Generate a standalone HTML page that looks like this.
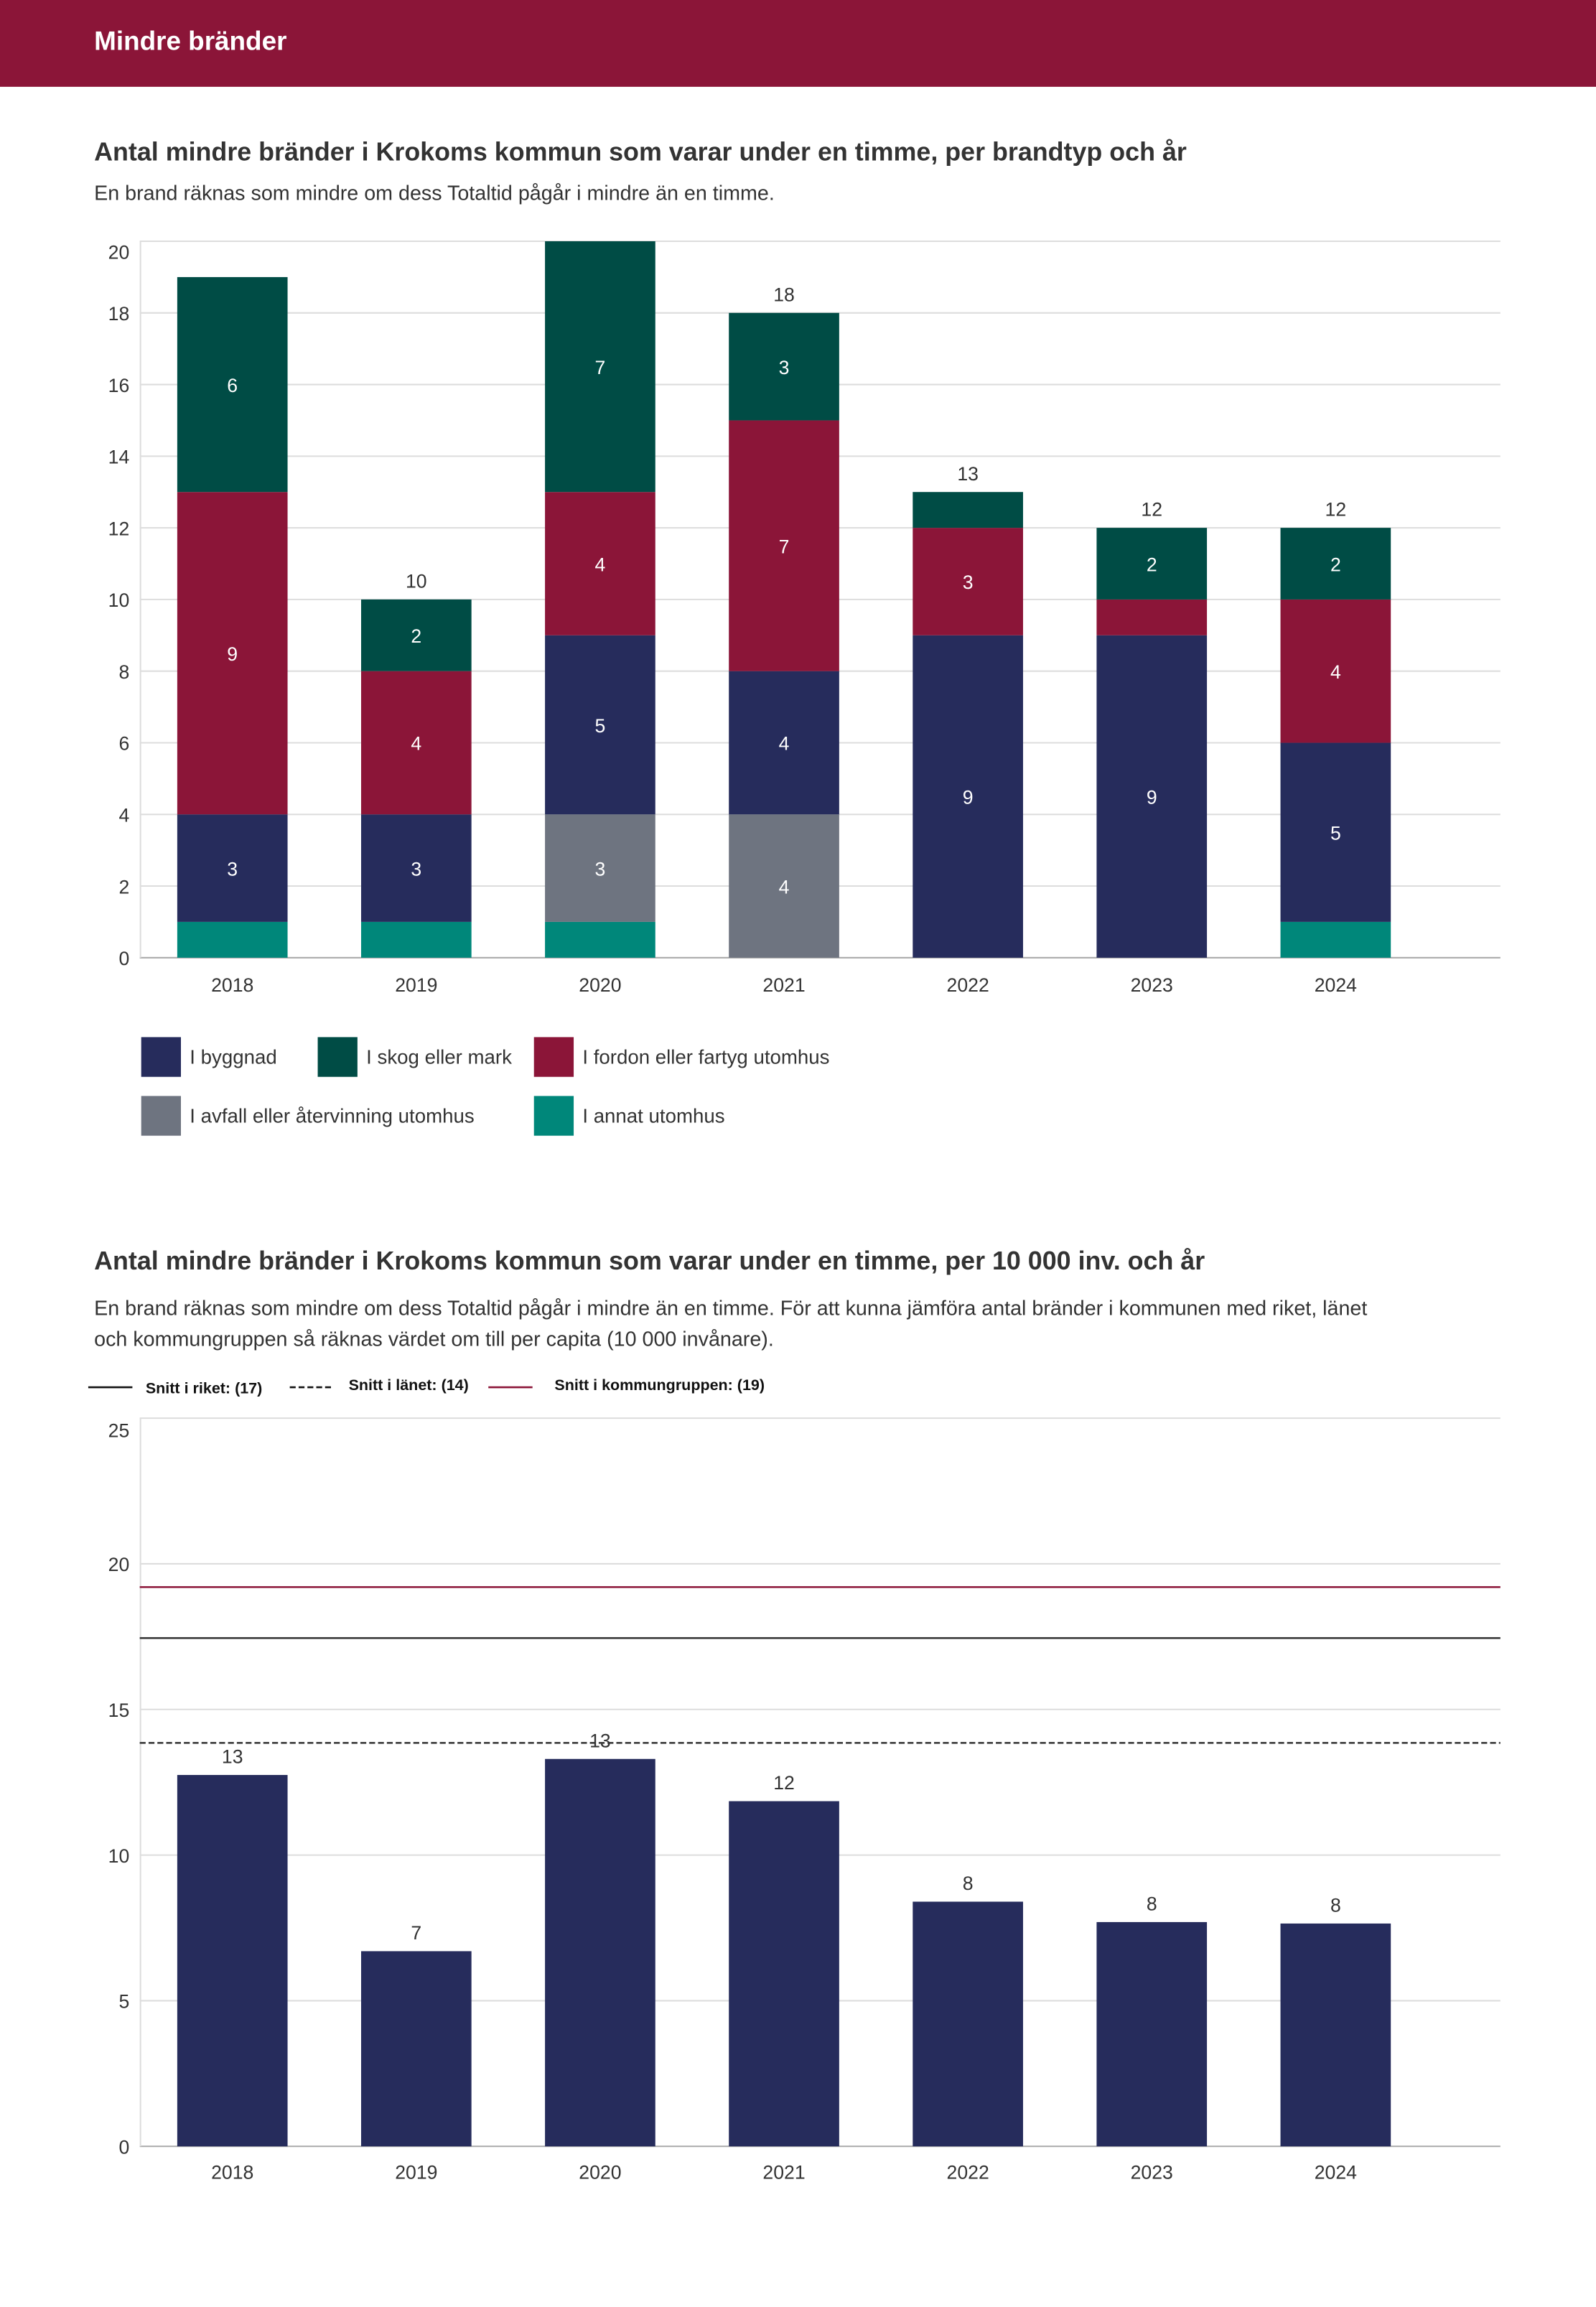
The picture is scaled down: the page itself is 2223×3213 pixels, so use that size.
<!DOCTYPE html>
<html><head><meta charset="utf-8"><style>
html,body{margin:0;padding:0;background:#fff;}
svg{display:block;font-family:"Liberation Sans",sans-serif;}
</style></head><body>
<svg id="s" width="2223" height="3213" viewBox="0 0 1085 1568.2" xmlns="http://www.w3.org/2000/svg">
<rect x="0" y="0" width="1085" height="59" fill="#8b1538"/>
<text x="64" y="34" fill="#fff" font-size="18" font-weight="bold">Mindre bränder</text>
<text x="64" y="109" fill="#333" font-size="17.5" font-weight="bold">Antal mindre bränder i Krokoms kommun som varar under en timme, per brandtyp och år</text>
<text x="64" y="136" fill="#333" font-size="14">En brand räknas som mindre om dess Totaltid pågår i mindre än en timme.</text>
<g id="c1"></g>
<g>
<rect x="96" y="705" width="27" height="27" fill="#262c5c"/><text x="129" y="723" font-size="13.5" fill="#333">I byggnad</text>
<rect x="216" y="705" width="27" height="27" fill="#004c45"/><text x="249" y="723" font-size="13.5" fill="#333">I skog eller mark</text>
<rect x="363" y="705" width="27" height="27" fill="#8b1538"/><text x="396" y="723" font-size="13.5" fill="#333">I fordon eller fartyg utomhus</text>
<rect x="96" y="745" width="27" height="27" fill="#6e7480"/><text x="129" y="763" font-size="13.5" fill="#333">I avfall eller återvinning utomhus</text>
<rect x="363" y="745" width="27" height="27" fill="#00877a"/><text x="396" y="763" font-size="13.5" fill="#333">I annat utomhus</text>
</g>
<text x="64" y="863" fill="#333" font-size="17.5" font-weight="bold">Antal mindre bränder i Krokoms kommun som varar under en timme, per 10 000 inv. och år</text>
<text x="64" y="894" fill="#333" font-size="14">En brand räknas som mindre om dess Totaltid pågår i mindre än en timme. För att kunna jämföra antal bränder i kommunen med riket, länet</text>
<text x="64" y="915" fill="#333" font-size="14">och kommungruppen så räknas värdet om till per capita (10 000 invånare).</text>
<g>
<line x1="60" y1="943" x2="90" y2="943" stroke="#111" stroke-width="1.3"/><text x="99" y="947" font-size="10.5" font-weight="bold" fill="#111">Snitt i riket: (17)</text>
<line x1="197" y1="943" x2="227" y2="943" stroke="#111" stroke-width="1.3" stroke-dasharray="4,2"/><text x="237" y="945" font-size="10.5" font-weight="bold" fill="#111">Snitt i länet: (14)</text>
<line x1="332" y1="943" x2="362" y2="943" stroke="#8b1538" stroke-width="1.3"/><text x="377" y="945" font-size="10.5" font-weight="bold" fill="#111">Snitt i kommungruppen: (19)</text>
</g>
<g id="c2"></g>
</svg>
<script>
const years=["2018","2019","2020","2021","2022","2023","2024"];
const annat=[1,1,1,0,0,0,1];
const avfall=[0,0,3,4,0,0,0];
const byggnad=[3,3,5,4,9,9,5];
const fordon=[9,4,4,7,3,1,4];
const skog=[6,2,7,3,1,2,2];
const ticks1=[0,2,4,6,8,10,12,14,16,18,20];
const perCapita=[12.75,6.7,13.3,11.85,8.4,7.7,7.65];
const perCapitaLabels=["13","7","13","12","8","8","8"];
const riket=17.45, lanet=13.85, kommungrupp=19.2;
const ticks2=[0,5,10,15,20,25];

const NS="http://www.w3.org/2000/svg";
function mk(p,tag,a){const e=document.createElementNS(NS,tag);for(const k in a)e.setAttribute(k,a[k]);p.appendChild(e);return e;}
const bandX=i=>95.5+125*i+62.5;

// chart 1
const c1=document.getElementById('c1');
const y1=v=>651-v*(487/20);
ticks1.forEach(t=>{
  const g=mk(c1,'line',{x1:95,x2:1020,y1:y1(t),y2:y1(t),stroke:t==0?'#aaa':'#ddd','stroke-width':1});
  
  
  const tx=mk(c1,'text',{x:88,y:t==20?y1(t)+12:y1(t)+5,'text-anchor':'end','font-size':13,fill:'#333'});tx.textContent=t;
  
  
});
mk(c1,'line',{x1:95.5,x2:95.5,y1:164,y2:651,stroke:'#ddd'});
const series=[["annat",annat,"#00877a"],["avfall",avfall,"#6e7480"],["byggnad",byggnad,"#262c5c"],["fordon",fordon,"#8b1538"],["skog",skog,"#004c45"]];
years.forEach((yr,i)=>{
  let base=0;const cx=bandX(i);
  series.forEach(([nm,arr,col])=>{
    const v=arr[i];if(!v)return;
    const r=mk(c1,'rect',{x:cx-37.5,width:75,y:y1(base+v),height:y1(base)-y1(base+v),fill:col});
    
    
    if(v>=2){const t=mk(c1,'text',{x:cx,y:(y1(base)+y1(base+v))/2+5,'text-anchor':'middle','font-size':13,fill:'#fff'});t.textContent=v;
      
      }
    base+=v;
  });
  if(base<=18){const t=mk(c1,'text',{x:cx,y:y1(base)-8,'text-anchor':'middle','font-size':13,fill:'#333'});t.textContent=base;
    
    }
  const xl=mk(c1,'text',{x:cx,y:674,'text-anchor':'middle','font-size':13,fill:'#333'});xl.textContent=yr;
  
  
});

// chart 2
const c2=document.getElementById('c2');
const y2=v=>1459-v*(495/25);
ticks2.forEach(t=>{
  const g=mk(c2,'line',{x1:95,x2:1020,y1:y2(t),y2:y2(t),stroke:t==0?'#aaa':'#ddd','stroke-width':1});
  
  
  const tx=mk(c2,'text',{x:88,y:t==25?y2(t)+13:y2(t)+5,'text-anchor':'end','font-size':13,fill:'#333'});tx.textContent=t;
  
  
});
mk(c2,'line',{x1:95.5,x2:95.5,y1:964,y2:1459,stroke:'#ddd'});
years.forEach((yr,i)=>{
  const cx=bandX(i),v=perCapita[i];
  const r=mk(c2,'rect',{x:cx-37.5,width:75,y:y2(v),height:y2(0)-y2(v),fill:'#262c5c'});
  
  
  const t=mk(c2,'text',{x:cx,y:y2(v)-8,'text-anchor':'middle','font-size':13,fill:'#333'});t.textContent=perCapitaLabels[i];
  
  
  const xl=mk(c2,'text',{x:cx,y:1481,'text-anchor':'middle','font-size':13,fill:'#333'});xl.textContent=yr;
  
  
});
const l1=mk(c2,'line',{x1:95,x2:1020,y1:y2(kommungrupp),y2:y2(kommungrupp),stroke:'#8b1538','stroke-width':1.2});


const l2=mk(c2,'line',{x1:95,x2:1020,y1:y2(riket),y2:y2(riket),stroke:'#333','stroke-width':1.2});


const l3=mk(c2,'line',{x1:95,x2:1020,y1:y2(lanet),y2:y2(lanet),stroke:'#333','stroke-width':1.2,'stroke-dasharray':'4,2'});


</script>
</body></html>
